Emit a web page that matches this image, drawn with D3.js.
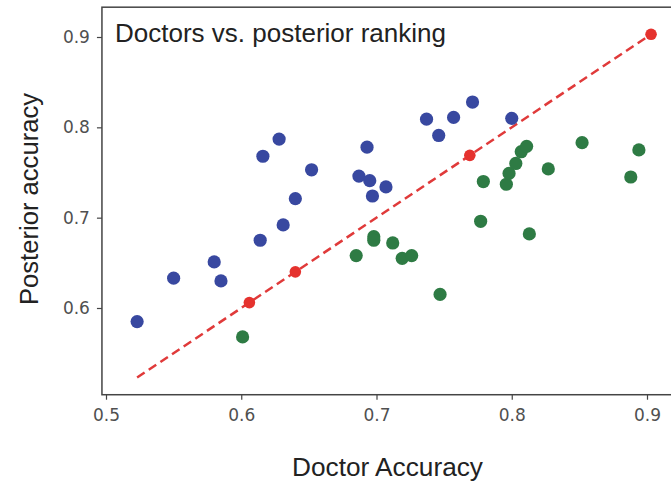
<!DOCTYPE html>
<html>
<head>
<meta charset="utf-8">
<script src="https://cdn.jsdelivr.net/npm/d3@7"></script>
<style>
  body { margin: 0; background: #fff; }
  svg { display: block; }
</style>
</head>
<body>
<div id="chart-area"></div>
<script>
const W = 671, H = 483

// Data: [doctor accuracy, posterior accuracy]
const bluePoints = [
  [0.523, 0.585], [0.550, 0.633], [0.580, 0.651], [0.585, 0.630],
  [0.614, 0.675], [0.616, 0.768], [0.628, 0.787], [0.631, 0.692],
  [0.640, 0.721], [0.652, 0.753], [0.687, 0.746], [0.693, 0.778],
  [0.695, 0.741], [0.707, 0.734], [0.697, 0.724], [0.737, 0.809],
  [0.746, 0.791], [0.757, 0.811], [0.771, 0.828], [0.800, 0.810]
]
const greenPoints = [
  [0.601, 0.568], [0.685, 0.658], [0.698, 0.679], [0.698, 0.675],
  [0.712, 0.672], [0.719, 0.655], [0.726, 0.658], [0.747, 0.615],
  [0.777, 0.696], [0.779, 0.740], [0.796, 0.737], [0.798, 0.749],
  [0.803, 0.760], [0.807, 0.773], [0.811, 0.779], [0.813, 0.682],
  [0.827, 0.754], [0.852, 0.783], [0.888, 0.745], [0.894, 0.775]
]
const redPoints = [0.606, 0.640, 0.769, 0.903]
const diagonal = [0.523, 0.903]
const xTicks = [0.5, 0.6, 0.7, 0.8, 0.9]
const yTicks = [0.6, 0.7, 0.8, 0.9]
const XLIM = [0.497, 0.95]
const YLIM = [0.504, 0.933]

const svg = d3.select("#chart-area").append("svg")
    .attr("width", W)
    .attr("height", H)

// Scales
const x = d3.scaleLinear().domain([0.5, 0.9]).range([106, 647])
const y = d3.scaleLinear().domain([0.6, 0.9]).range([308, 37])

// Axes
const xAxisCall = d3.axisBottom(x)
    .tickValues(xTicks)
    .tickSize(5)
    .tickPadding(9)
    .tickFormat(d3.format(".1f"))
svg.append("g")
    .attr("transform", `translate(0, ${y(YLIM[0])})`)
    .call(xAxisCall)

const yAxisCall = d3.axisLeft(y)
    .tickValues(yTicks)
    .tickSize(5)
    .tickPadding(7)
    .tickFormat(d3.format(".1f"))
svg.append("g")
    .attr("transform", `translate(${x(XLIM[0])}, 0)`)
    .call(yAxisCall)

svg.selectAll(".domain").remove()
svg.selectAll(".tick line").attr("stroke", "#444").attr("stroke-width", 1.2)
svg.selectAll(".tick text")
    .attr("fill", "#505050")
    .attr("font-family", "DejaVu Sans")
    .attr("font-size", "17px")

// Frame (right side falls outside the picture)
svg.append("rect")
    .attr("x", x(XLIM[0]))
    .attr("y", y(YLIM[1]))
    .attr("width", x(XLIM[1]) - x(XLIM[0]))
    .attr("height", y(YLIM[0]) - y(YLIM[1]))
    .attr("fill", "none")
    .attr("stroke", "#444")
    .attr("stroke-width", 1.5)

// Diagonal
svg.append("line")
    .attr("x1", x(diagonal[0]))
    .attr("y1", y(diagonal[0]))
    .attr("x2", x(diagonal[1]))
    .attr("y2", y(diagonal[1]))
    .attr("stroke", "#e03a3a")
    .attr("stroke-width", 2.5)
    .attr("stroke-dasharray", "9,5")

svg.selectAll(".blue")
    .data(bluePoints)
    .enter().append("circle")
    .attr("cx", d => x(d[0]))
    .attr("cy", d => y(d[1]))
    .attr("r", 6.6)
    .attr("fill", "#3848a0")

svg.selectAll(".green")
    .data(greenPoints)
    .enter().append("circle")
    .attr("cx", d => x(d[0]))
    .attr("cy", d => y(d[1]))
    .attr("r", 6.6)
    .attr("fill", "#2e7b44")

svg.selectAll(".red")
    .data(redPoints)
    .enter().append("circle")
    .attr("cx", d => x(d))
    .attr("cy", d => y(d))
    .attr("r", 5.8)
    .attr("fill", "#e5322e")

// Labels
svg.append("text")
    .attr("x", 115)
    .attr("y", 42)
    .attr("font-family", "Liberation Sans")
    .attr("font-size", "25px")
    .attr("fill", "#222")
    .attr("textLength", 331)
    .attr("lengthAdjust", "spacingAndGlyphs")
    .text("Doctors vs. posterior ranking")

svg.append("text")
    .attr("x", 387.5)
    .attr("y", 476)
    .attr("text-anchor", "middle")
    .attr("font-family", "Liberation Sans")
    .attr("font-size", "25.5px")
    .attr("fill", "#222")
    .attr("textLength", 191)
    .attr("lengthAdjust", "spacingAndGlyphs")
    .text("Doctor Accuracy")

svg.append("text")
    .attr("transform", "rotate(-90)")
    .attr("x", -199)
    .attr("y", 37.5)
    .attr("text-anchor", "middle")
    .attr("font-family", "Liberation Sans")
    .attr("font-size", "25.5px")
    .attr("fill", "#222")
    .attr("textLength", 212)
    .attr("lengthAdjust", "spacingAndGlyphs")
    .text("Posterior accuracy")
</script>
</body>
</html>
